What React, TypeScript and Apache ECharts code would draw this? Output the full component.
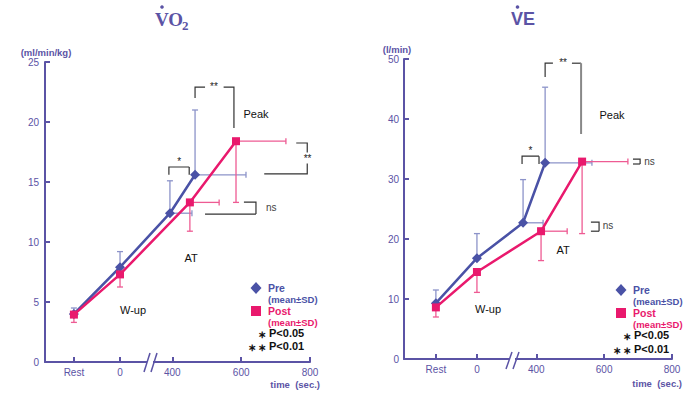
import React, { useEffect, useRef } from "react";
import * as echarts from "echarts";

// ---------- data ----------
const xTickLabels = ["Rest", "0", "400", "600", "800"];
// positions of ticks on the (broken) time axis; Rest and 0 sit before the break
const vo2TickPos = [114, 248, 400, 600, 800];
const veTickPos = [104, 225, 400, 600, 800];

// VO2 (ml/min/kg): Rest, 0 (W-up), AT, Peak
const vo2PreX = [114, 248, 393, 466];
const vo2PreY = [4.0, 7.9, 12.4, 15.6];
const vo2PreSdY = [4.5, 9.2, 15.1, 21.0];
const vo2PreSdX = [null, null, 457, 614];
const vo2PostX = [114, 248, 451, 585];
const vo2PostY = [3.95, 7.3, 13.3, 18.4];
const vo2PostSdY = [3.3, 6.25, 10.9, 13.3];
const vo2PostSdX = [null, null, 536, 730];

// VE (l/min)
const vePreX = [104, 225, 361, 426];
const vePreY = [9.3, 16.8, 22.7, 32.7];
const vePreSdY = [11.5, 20.9, 29.9, 45.3];
const vePreSdX = [null, null, 420, 564];
const vePostX = [104, 225, 414, 535];
const vePostY = [8.6, 14.5, 21.3, 32.9];
const vePostSdY = [7.0, 11.1, 16.4, 20.9];
const vePostSdX = [null, null, 491, 670];

// significance brackets (3-point polylines, data coords)
const vo2Brackets = [
  [466, 22.0, 466, 22.9, 495, 22.9],
  [549, 22.9, 579, 22.9, 579, 19.5],
  [390, 15.6, 390, 16.25, 449, 16.25],
  [449, 16.25, 449, 15.6, 449, 15.6],
  [760, 18.25, 792, 18.25, 792, 17.45],
  [792, 16.55, 792, 15.67, 667, 15.67],
  [608, 13.33, 643, 13.33, 643, 12.33],
  [643, 12.33, 495, 12.33, 495, 12.33],
];
const vo2MarkX = [521, 420, 793, 672];
const vo2MarkY = [22.95, 16.75, 17.0, 12.85];
const vo2MarkText = ["**", "*", "**", "ns"];

const veBrackets = [
  [426, 47.0, 426, 49.3, 449, 49.3],
  [505, 49.3, 532, 49.3, 532, 49.3],
  [358, 32.5, 358, 33.8, 408, 33.8],
  [408, 33.8, 408, 32.5, 408, 32.5],
  [685, 33.3, 706, 33.3, 706, 32.5],
  [706, 32.5, 685, 32.5, 685, 32.5],
  [561, 22.8, 585, 22.8, 585, 21.3],
  [585, 21.3, 561, 21.3, 561, 21.3],
];
const veBigBracket = [[532, 49.3, 532, 37.5, 532, 37.5]];
const veMarkX = [479, 383, 718, 596];
const veMarkY = [49.35, 34.7, 32.85, 22.2];
const veMarkText = ["**", "*", "ns", "ns"];

// ---------- styles ----------
const PURPLE = "#5b53a5";
const BLUE = "#4a52a6";
const PINK = "#e9196d";
const BLUE_LIGHT = "#8c93c9";
const PINK_LIGHT = "#ee5b93";
const FONT = "'Liberation Sans', Arial, sans-serif";

function errBars(xs: number[], ys: number[], sdY: number[], sdX: (number | null)[]) {
  const out: number[][] = [];
  xs.forEach((x, i) => {
    out.push([x, ys[i], x, sdY[i]]);
    const sx = sdX[i];
    if (sx != null) out.push([x, ys[i], sx, ys[i]]);
  });
  return out;
}

function errSeries(data: number[][], color: string, g: number) {
  return {
    type: "custom",
    xAxisIndex: g,
    yAxisIndex: g,
    clip: false,
    z: 2,
    silent: true,
    encode: { x: [0, 2], y: [1, 3] },
    data,
    renderItem: (_p: any, api: any) => {
      const p0 = api.coord([api.value(0), api.value(1)]);
      const p1 = api.coord([api.value(2), api.value(3)]);
      const horiz = Math.abs(p1[1] - p0[1]) < 0.5;
      const c = 3;
      const cap = horiz
        ? { x1: p1[0], y1: p1[1] - c, x2: p1[0], y2: p1[1] + c }
        : { x1: p1[0] - c, y1: p1[1], x2: p1[0] + c, y2: p1[1] };
      const style = { stroke: color, lineWidth: 1.3 };
      return {
        type: "group",
        children: [
          { type: "line", shape: { x1: p0[0], y1: p0[1], x2: p1[0], y2: p1[1] }, style },
          { type: "line", shape: cap, style },
        ],
      };
    },
  };
}

function bracketSeries(data: number[][], g: number, color: string, width: number) {
  return {
    type: "custom",
    xAxisIndex: g,
    yAxisIndex: g,
    clip: false,
    z: 2,
    silent: true,
    encode: { x: [0, 2, 4], y: [1, 3, 5] },
    data,
    renderItem: (_p: any, api: any) => {
      const pts = [0, 1, 2].map((k) => api.coord([api.value(2 * k), api.value(2 * k + 1)]));
      return {
        type: "polyline",
        shape: { points: pts },
        style: { stroke: color, lineWidth: width, fill: null },
      };
    },
  };
}

function lineSeries(xs: number[], ys: number[], color: string, symbol: string, size: number, g: number, z: number) {
  return {
    type: "line",
    xAxisIndex: g,
    yAxisIndex: g,
    data: xs.map((x, i) => [x, ys[i]]),
    symbol,
    symbolSize: size,
    showSymbol: true,
    lineStyle: { color, width: 2.5 },
    itemStyle: { color },
    z,
    silent: true,
  };
}

// bracket annotation texts, drawn through the axes as a custom series
function markSeries(xs: number[], ys: number[], texts: string[], g: number) {
  return {
    type: "custom",
    xAxisIndex: g,
    yAxisIndex: g,
    clip: false,
    z: 6,
    silent: true,
    encode: { x: 0, y: 1 },
    data: xs.map((x, i) => [x, ys[i], i]),
    renderItem: (_p: any, api: any) => {
      const p = api.coord([api.value(0), api.value(1)]);
      const t = texts[api.value(2)];
      const ns = t === "ns";
      return {
        type: "text",
        x: p[0],
        y: p[1],
        style: {
          text: t,
          fill: ns ? "#444" : "#222",
          fontSize: 10,
          fontFamily: FONT,
          align: ns ? "left" : "center",
          verticalAlign: "middle",
        },
      };
    },
  };
}

function xAxis(g: number, min: number, ticks: number[]) {
  return {
    type: "value",
    gridIndex: g,
    min,
    max: 800,
    axisLine: { show: true, lineStyle: { color: PURPLE, width: 2 } },
    axisTick: { show: true, inside: true, length: 5, customValues: ticks, lineStyle: { color: PURPLE, width: 2 } },
    axisLabel: {
      show: true,
      customValues: ticks,
      margin: 5,
      fontSize: 10,
      color: PURPLE,
      fontFamily: FONT,
      formatter: (v: number) => {
        const i = ticks.indexOf(v);
        return i >= 0 ? xTickLabels[i] : "";
      },
    },
    splitLine: { show: false },
  };
}

function yAxis(g: number, max: number, interval: number, margin: number) {
  return {
    type: "value",
    gridIndex: g,
    min: 0,
    max,
    interval,
    axisLine: { show: true, lineStyle: { color: PURPLE, width: 2 } },
    axisTick: { show: true, inside: true, length: 5, lineStyle: { color: PURPLE, width: 2 } },
    axisLabel: { margin, fontSize: 10, color: PURPLE, fontFamily: FONT },
    splitLine: { show: false },
  };
}

function legend(x: number, yPre: number, ys: number[]) {
  // ys: [preSub, post, postSub, p05, p01]
  const [preSub, post, postSub, p05, p01] = ys;
  const t = (tx: number, ty: number, text: string, color: string, size: number, align = "left") => ({
    type: "text",
    x: tx,
    y: ty,
    style: { text, fill: color, fontSize: size, fontWeight: "bold", fontFamily: FONT, align, verticalAlign: "middle" },
  });
  return [
    { type: "polygon", shape: { points: [[x, yPre - 6], [x + 5.5, yPre], [x, yPre + 6], [x - 5.5, yPre]] }, style: { fill: BLUE } },
    t(x + 12, yPre, "Pre", BLUE, 10.5),
    t(x + 12, preSub, "(mean±SD)", BLUE, 9.5),
    { type: "rect", shape: { x: x - 5, y: post - 5, width: 10, height: 10 }, style: { fill: PINK } },
    t(x + 12, post, "Post", PINK, 10.5),
    t(x + 12, postSub, "(mean±SD)", PINK, 9.5),
    t(x + 6, p05 + 1, "∗", "#111", 10, "center"),
    t(x + 13, p05, "P<0.05", "#111", 11),
    t(x - 4, p01 + 1, "∗", "#111", 10, "center"),
    t(x + 6, p01 + 1, "∗", "#111", 10, "center"),
    t(x + 13, p01, "P<0.01", "#111", 11),
  ];
}

function plainText(x: number, y: number, text: string, size = 11, align = "center", color = "#111", weight = "normal") {
  return {
    type: "text",
    x,
    y,
    style: { text, fill: color, fontSize: size, fontFamily: FONT, align, verticalAlign: "middle", fontWeight: weight },
  };
}

function breakMarks(x1: number, x2: number, yAxisPx: number, yTop: number, yBot: number) {
  const st = { stroke: PURPLE, lineWidth: 1.5 };
  return [
    { type: "rect", shape: { x: x1 + 3, y: yAxisPx - 3, width: x2 - x1 - 1, height: 6 }, style: { fill: "#fff" }, z: 10 },
    { type: "line", shape: { x1: x1, y1: yBot, x2: x1 + 6, y2: yTop }, style: st, z: 11 },
    { type: "line", shape: { x1: x2, y1: yBot, x2: x2 + 6, y2: yTop }, style: st, z: 11 },
  ];
}

export default function App() {
  const ref = useRef<HTMLDivElement>(null);
  useEffect(() => {
    if (!ref.current) return;
    const chart = echarts.init(ref.current, undefined, { renderer: "svg" });
    const option: any = {
      animation: false,
      backgroundColor: "#fff",
      grid: [
        { left: 45, top: 62, width: 265, height: 300 },
        { left: 404, top: 59, width: 268, height: 300 },
      ],
      xAxis: [xAxis(0, 30, vo2TickPos), xAxis(1, 10, veTickPos)],
      yAxis: [yAxis(0, 25, 5, 6), yAxis(1, 50, 10, 5)],
      series: [
        errSeries(errBars(vo2PreX, vo2PreY, vo2PreSdY, vo2PreSdX), BLUE_LIGHT, 0),
        errSeries(errBars(vo2PostX, vo2PostY, vo2PostSdY, vo2PostSdX), PINK_LIGHT, 0),
        bracketSeries(vo2Brackets, 0, "#333", 1.2),
        lineSeries(vo2PreX, vo2PreY, BLUE, "diamond", 10, 0, 3),
        lineSeries(vo2PostX, vo2PostY, PINK, "rect", 8, 0, 4),
        markSeries(vo2MarkX, vo2MarkY, vo2MarkText, 0),

        errSeries(errBars(vePreX, vePreY, vePreSdY, vePreSdX), BLUE_LIGHT, 1),
        errSeries(errBars(vePostX, vePostY, vePostSdY, vePostSdX), PINK_LIGHT, 1),
        bracketSeries(veBrackets, 1, "#333", 1.2),
        bracketSeries(veBigBracket, 1, "#888", 2),
        lineSeries(vePreX, vePreY, BLUE, "diamond", 10, 1, 3),
        lineSeries(vePostX, vePostY, PINK, "rect", 8, 1, 4),
        markSeries(veMarkX, veMarkY, veMarkText, 1),
      ],
      graphic: [
        // titles
        { type: "text", x: 155, y: 19, style: { text: "VO", fill: PURPLE, fontSize: 19, fontWeight: "bold", fontFamily: "'Liberation Serif', 'Times New Roman', serif", align: "left", verticalAlign: "middle" } },
        { type: "text", x: 182, y: 25, style: { text: "2", fill: PURPLE, fontSize: 13, fontWeight: "bold", fontFamily: "'Liberation Serif', 'Times New Roman', serif", align: "left", verticalAlign: "middle" } },
        { type: "circle", shape: { cx: 162, cy: 7, r: 1.8 }, style: { fill: PURPLE } },
        { type: "text", x: 511, y: 19, style: { text: "VE", fill: PURPLE, fontSize: 18, fontWeight: "bold", fontFamily: FONT, align: "left", verticalAlign: "middle" } },
        { type: "circle", shape: { cx: 517.5, cy: 7, r: 1.8 }, style: { fill: PURPLE } },
        // units
        plainText(46, 52, "(ml/min/kg)", 9.5, "center", PURPLE, "bold"),
        plainText(397, 49, "(l/min)", 9.5, "center", PURPLE, "bold"),
        plainText(320, 384, "time  (sec.)", 9.5, "right", PURPLE, "bold"),
        plainText(682, 383, "time  (sec.)", 9.5, "right", PURPLE, "bold"),
        // phase labels
        plainText(256, 114, "Peak"),
        plainText(191, 258, "AT"),
        plainText(133, 310, "W-up"),
        plainText(612, 115, "Peak"),
        plainText(563, 250, "AT"),
        plainText(488, 309, "W-up"),
        // legends
        ...legend(256, 288, [299, 311, 322, 333, 346]),
        ...legend(621, 290, [301, 313, 324, 335, 349]),
        // axis breaks
        ...breakMarks(144, 151, 362, 353, 372),
        ...breakMarks(506, 513, 359, 352, 369),
      ],
    };
    chart.setOption(option);
    return () => chart.dispose();
  }, []);
  return <div ref={ref} style={{ position: "absolute", left: 0, top: 0, width: 700, height: 401 }} />;
}
